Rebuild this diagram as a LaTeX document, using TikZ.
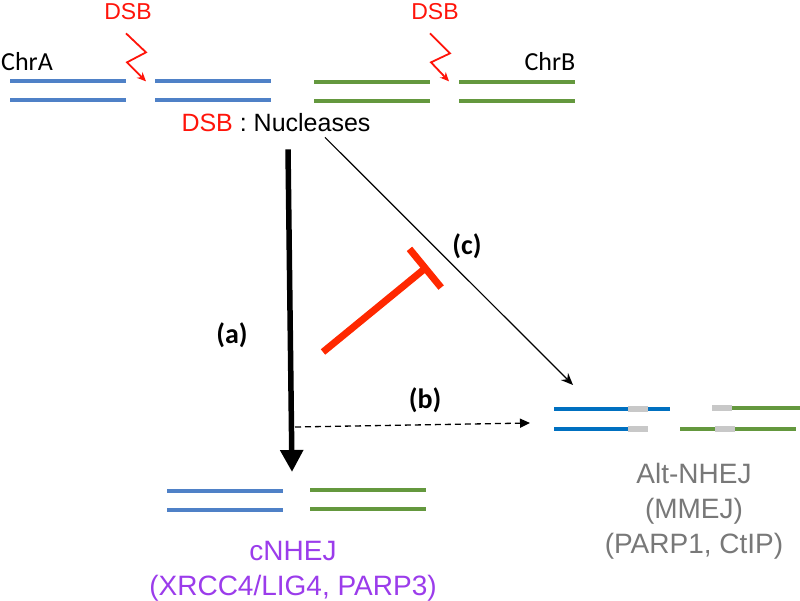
\documentclass[tikz,border=0pt]{standalone}
\usepackage{fontspec}
\setmainfont{Liberation Sans}
\newfontfamily\calibfont{Carlito}
\usetikzlibrary{arrows.meta}

\definecolor{chrblue}{RGB}{79,129,199}
\definecolor{altblue}{RGB}{0,112,192}
\definecolor{chrgreen}{RGB}{100,152,62}
\definecolor{mhgray}{RGB}{200,200,200}
\definecolor{dsbred}{RGB}{255,20,10}
\definecolor{inhred}{RGB}{255,40,0}
\definecolor{cpurple}{RGB}{155,60,235}
\definecolor{altgray}{RGB}{120,120,120}

\tikzset{
  strand/.style={line width=4pt},
  mh/.style={line width=6pt,mhgray},
  chrlbl/.style={inner sep=0pt,font=\calibfont\fontsize{26}{30}\selectfont},
  steplbl/.style={inner sep=0pt,font=\calibfont\bfseries\fontsize{28}{32}\selectfont},
  dsblbl/.style={inner sep=0pt,text=dsbred,font=\fontsize{23}{27}\selectfont},
  bolt/.style={dsbred,line width=1.8pt,-{Stealth[length=9pt,width=8pt]}},
  endlbl/.style={inner sep=0pt,align=center,font=\fontsize{28}{35}\selectfont}
}

\begin{document}
\begin{tikzpicture}[x=1pt,y=-1pt]
\useasboundingbox (0,0) rectangle (800,601);

% chromosomes with the breaks
\draw[strand,chrblue] (10,81) -- (126,81) (10,100) -- (126,100);
\draw[strand,chrblue] (155,81) -- (271,81) (155,100) -- (271,100);
\draw[strand,chrgreen] (314,82) -- (430,82) (314,101) -- (430,101);
\draw[strand,chrgreen] (459,82) -- (575,82) (459,101) -- (575,101);
\node[chrlbl] (chrA) at (27,62) {ChrA};
\node[chrlbl] (chrB) at (550,62) {ChrB};
\node[dsblbl] (dsbA) at (128,12) {DSB};
\node[dsblbl] (dsbB) at (435,12) {DSB};
\draw[bolt] (dsbA.south) ++(-2,13) -- ++(20,19) -- ++(-19,10) -- ++(19,19);
\draw[bolt] (dsbB.south) ++(-5,13) -- ++(20,20) -- ++(-19,9) -- ++(18,19);
\node[inner sep=0pt,font=\fontsize{25}{30}\selectfont] (nuc) at (276,123) {\textcolor{dsbred}{DSB} : Nucleases};

% cNHEJ product
\draw[strand,chrblue] (167,491) -- (283,491) (167,510) -- (283,510);
\draw[strand,chrgreen] (310,490) -- (426,490) (310,509) -- (426,509);
\node[endlbl,text=cpurple] (cnhej) at (293,571) {cNHEJ\\(XRCC4/LIG4, PARP3)};

% alt-NHEJ product
\draw[strand,altblue] (554,409) -- (628,409) (648,409) -- (670,409) (554,429) -- (628,429);
\draw[mh] (628,409) -- (648,409) (628,429) -- (648,429);
\draw[strand,chrgreen] (732,408) -- (800,408) (680,429) -- (715,429) (735,429) -- (796,429);
\draw[mh] (712,408) -- (732,408) (715,429) -- (735,429);
\node[endlbl,text=altgray] (alt) at (694,511) {Alt-NHEJ\\(MMEJ)\\(PARP1, CtIP)};

% pathways
\coordinate (tipA) at (292,472);
\coordinate (tipB) at (530,423);
\coordinate (tipC) at (573,385);
\draw[line width=5.5pt,-{Triangle[length=22pt,width=22pt]}] ([shift={(12,17)}]nuc.south) -- (tipA);
\draw[line width=1.2pt,-{Stealth[length=12pt,width=10pt]}] ([shift={(49,5)}]nuc.south) -- (tipC);
\draw[line width=1.3pt,dash pattern=on 6pt off 4pt,-{Triangle[length=10pt,width=9pt]}] (295,427) -- (tipB);
\draw[inhred,line width=7pt,-{Bar[width=50pt]}] (323,352) -- (428,266);
\node[steplbl] (la) at (232,335) {(a)};
\node[steplbl] (lb) at (425,400) {(b)};
\node[steplbl] (lc) at (467,246) {(c)};
\end{tikzpicture}
\end{document}
